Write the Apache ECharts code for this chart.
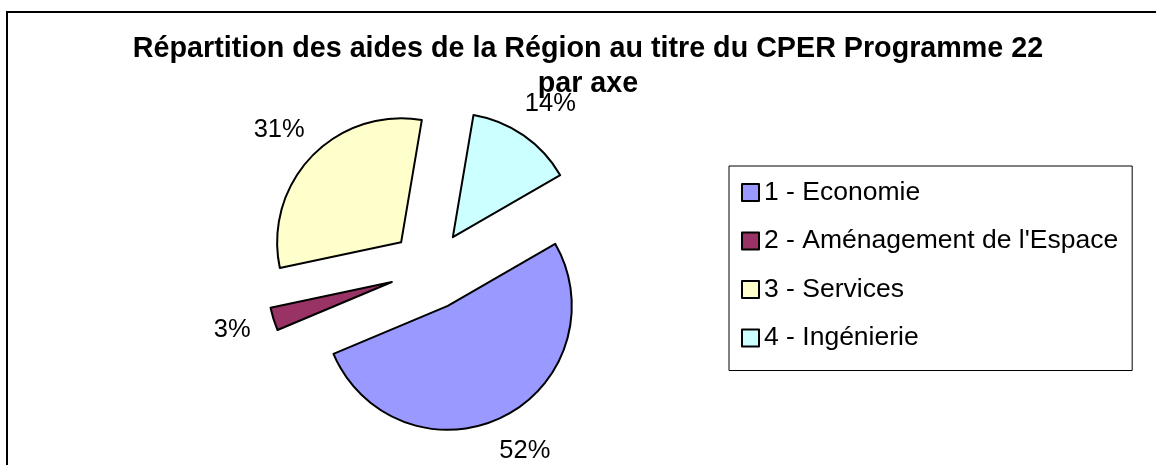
<!DOCTYPE html>
<html>
<head>
<meta charset="utf-8">
<script src="https://cdn.jsdelivr.net/npm/echarts@6/dist/echarts.min.js"></script>
<style>
  html, body { margin: 0; padding: 0; background: #fff; }
  #main { width: 1156px; height: 465px; }
</style>
</head>
<body>
<div id="main"></div>
<script>
// chart data
const titleText = "Répartition des aides de la Région au titre du CPER Programme 22\npar axe";
const categories = ["1 - Economie", "2 - Aménagement de l'Espace", "3 - Services", "4 - Ingénierie"];
const shares = [52, 3, 31, 14]; // percent
const colors = ["#9999FF", "#993366", "#FFFFCC", "#CCFFFF"];

const font = "Liberation Sans, Arial, sans-serif";

let myChart = echarts.init(document.getElementById("main"));

let options = {
  animation: false,
  backgroundColor: "#fff",
  title: {
    text: titleText,
    left: 583,
    top: 27,
    textAlign: "center",
    textStyle: { fontFamily: font, fontSize: 28.7, fontWeight: "bold", color: "#000", lineHeight: 35 },
  },
  legend: {
    orient: "vertical",
    left: 729,
    top: 166,
    padding: [13, 14, 19, 12],
    itemGap: 21.5,
    itemWidth: 17,
    itemHeight: 17,
    icon: "rect",
    borderColor: "#000",
    borderWidth: 1,
    itemStyle: { borderColor: "#000", borderWidth: 2 },
    textStyle: { fontFamily: font, fontSize: 26.5, color: "#000", lineHeight: 26 },
    data: categories,
  },
  graphic: [
    {
      // outer chart frame
      type: "rect",
      shape: { x: 7, y: 12, width: 1200, height: 600 },
      style: { fill: "none", stroke: "#000", lineWidth: 2 },
      silent: true,
    },
  ],
  series: [
    {
      name: "Aides",
      type: "pie",
      center: [430, 270],
      radius: 124,
      startAngle: 30,
      clockwise: true,
      selectedMode: "multiple",
      selectedOffset: 40,
      avoidLabelOverlap: false,
      itemStyle: { borderColor: "#000", borderWidth: 2 },
      select: { itemStyle: { borderColor: "#000", borderWidth: 2 } },
      emphasis: { disabled: true },
      label: {
        show: true,
        position: "outside",
        formatter: "{d}%",
        fontFamily: font,
        fontSize: 25.5,
        color: "#000",
      },
      labelLine: { show: false, length: 38, length2: 0 },
      // centre the labels on their anchor like Excel does
      labelLayout: function (p) {
        const w = p.labelRect.width / 2;
        return { dx: p.align === "left" ? -w : p.align === "right" ? w : 0 };
      },
      data: categories.map((c, i) => ({
        name: c,
        value: shares[i],
        selected: true,
        itemStyle: { color: colors[i] },
      })),
    },
  ],
};

myChart.setOption(options);
</script>
</body>
</html>
